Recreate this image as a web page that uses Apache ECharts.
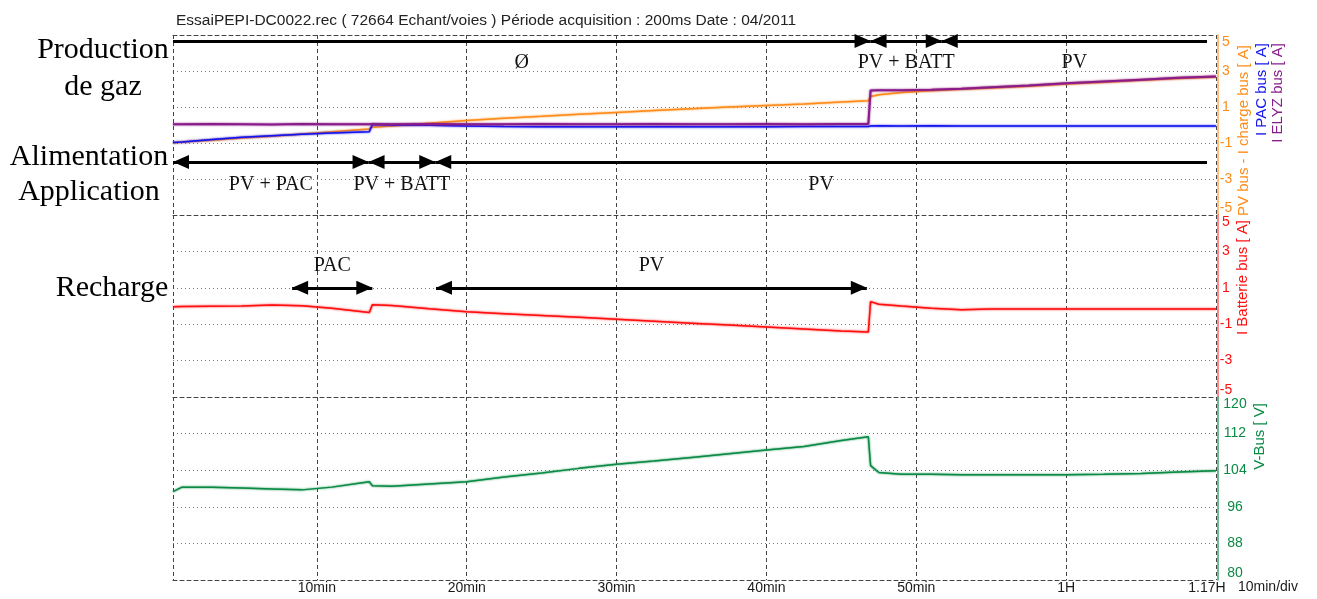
<!DOCTYPE html>
<html>
<head>
<meta charset="utf-8">
<script src="https://cdn.jsdelivr.net/npm/echarts@6/dist/echarts.min.js"></script>
<style>
  html, body { margin: 0; padding: 0; background: #fff; }
  #chart { width: 1317px; height: 599px; }
</style>
</head>
<body>
<div id="chart"></div>
<script>
// temps en minutes
var times = [0.4, 1, 3, 5, 7, 9, 11, 13.5, 13.7, 15, 17.5, 20, 22.5, 25, 27.5, 30, 32.5, 35, 37.5, 40,
    42.5, 45, 46.8, 46.95, 47.5, 49, 51, 53, 55, 57.5, 60, 62.5, 65, 67.5, 70];

// PV bus - I charge bus [A]
var pvChargeBus = [-1.0, -0.95, -0.85, -0.72, -0.62, -0.5, -0.38, -0.22, -0.12, -0.05, 0.1, 0.25, 0.38, 0.48, 0.6,
    0.7, 0.8, 0.9, 1.0, 1.08, 1.17, 1.28, 1.35, 1.58, 1.68, 1.8, 1.9, 1.98, 2.05, 2.15, 2.28, 2.38, 2.48, 2.58, 2.66];
// I PAC bus [A]
var pacBus = [-0.97, -0.95, -0.8, -0.68, -0.6, -0.52, -0.45, -0.38, 0.03, 0.0, -0.02, -0.05, -0.08, -0.1, -0.1,
    -0.1, -0.1, -0.1, -0.1, -0.1, -0.09, -0.08, -0.08, -0.05, -0.04, -0.05, -0.04, -0.05, -0.05, -0.05, -0.05, -0.06, -0.05, -0.05, -0.05];
// I ELYZ bus [A]
var elyzBus = [0.04, 0.04, 0.05, 0.04, 0.03, 0.05, 0.04, 0.04, 0.05, 0.04, 0.05, 0.04, 0.04, 0.05, 0.04,
    0.04, 0.05, 0.04, 0.04, 0.05, 0.04, 0.05, 0.05, 1.92, 1.93, 1.93, 1.96, 2.02, 2.1, 2.2, 2.32, 2.42, 2.52, 2.62, 2.7];
// I Batterie bus [A]
var batterieBus = [-0.04, -0.03, -0.01, 0.0, 0.06, 0.02, -0.12, -0.36, 0.07, 0.03, -0.15, -0.31, -0.42, -0.52, -0.62,
    -0.73, -0.84, -0.95, -1.05, -1.16, -1.27, -1.38, -1.43, 0.24, 0.1, 0.0, -0.12, -0.2, -0.17, -0.16, -0.17, -0.17, -0.17, -0.17, -0.17];
// V-Bus [V]
var vBus = [99.3, 100.3, 100.3, 100.1, 99.9, 99.7, 100.3, 101.5, 100.6, 100.5, 101.0, 101.5, 102.5, 103.4, 104.4,
    105.3, 106.0, 106.8, 107.6, 108.4, 109.2, 110.5, 111.3, 105.0, 103.5, 103.1, 103.1, 103.0, 103.0, 103.0, 103.0, 103.1, 103.3, 103.6, 103.9];

var timeTicks = [10, 20, 30, 40, 50, 60, 70];
var timeTickLabels = ['10min', '20min', '30min', '40min', '50min', '1H', '1.17H'];
var currentTicks = [-5, -3, -1, 1, 3, 5];
var voltTicks = [80, 88, 96, 104, 112, 120];

// phases annotées (flèches), en minutes
var gasPhases = [
    {from: 0.4, to: 46.95, label: 'Ø', heads: [false, true]},
    {from: 46.95, to: 51.7, label: 'PV + BATT', heads: [true, true]},
    {from: 51.7, to: 69.4, label: 'PV', heads: [true, false]}
];
var supplyPhases = [
    {from: 0.4, to: 13.45, label: 'PV + PAC', heads: [true, true]},
    {from: 13.45, to: 17.9, label: 'PV + BATT', heads: [true, true]},
    {from: 17.9, to: 69.4, label: 'PV', heads: [true, false]}
];
var rechargePhases = [
    {from: 8.35, to: 13.7, label: 'PAC', heads: [true, true]},
    {from: 17.95, to: 46.7, label: 'PV', heads: [true, true]}
];
var gasRow = 4.67, supplyRow = -2.05, rechargeRow = 1.0;

var xMin = 0.4, xMax = 70;
var frameColor = '#444';
var orange = '#FF8C1A', blue = '#1414F0', purple = '#8A1C8A', red = '#FF1010', green = '#0B8A45';

function pairs(ys) {
    return times.map(function (t, i) { return [t, ys[i]]; });
}

function arrowLines(phases, y, pos, dist) {
    return phases.map(function (p) {
        return [
            {
                coord: [p.from, y], name: p.label,
                symbol: p.heads[0] ? 'triangle' : 'none', symbolSize: [14, 16], symbolOffset: [0, '50%'],
                label: {position: pos, distance: dist}
            },
            {
                coord: [p.to, y],
                symbol: p.heads[1] ? 'triangle' : 'none', symbolSize: [14, 16], symbolOffset: [0, '50%']
            }
        ];
    });
}

function xAxisFor(grid, showLabels) {
    return {
        type: 'value', gridIndex: grid, min: xMin, max: xMax,
        axisLine: {show: true, onZero: false, lineStyle: {color: frameColor, type: [4, 3], width: 1}},
        axisTick: {show: false, customValues: [xMin].concat(timeTicks)},
        axisLabel: {
            show: showLabels, customValues: timeTicks, margin: 1,
            color: '#1a1a1a', fontSize: 14, fontFamily: 'Liberation Sans',
            formatter: function (v) {
                var txt = timeTickLabels[timeTicks.indexOf(v)];
                return v === xMax ? '{last|' + txt + '}' : txt;
            },
            rich: {last: {color: '#1a1a1a', fontSize: 14, fontFamily: 'Liberation Sans', padding: [0, 18, 0, 0]}}
        },
        splitLine: {show: true, lineStyle: {color: frameColor, type: [4, 3], width: 1}},
        name: showLabels ? '10min/div' : '',
        nameLocation: 'end', nameGap: 22,
        nameTextStyle: {color: '#1a1a1a', fontSize: 14, fontFamily: 'Liberation Sans', verticalAlign: 'top', lineHeight: 14}
    };
}

function valueAxis(grid, min, max, labels, inner, color, labelColor, margin) {
    return {
        type: 'value', gridIndex: grid, position: 'right', offset: 2, min: min, max: max,
        axisLine: {show: true, onZero: false, lineStyle: {color: color, width: 1.5}},
        axisTick: {show: false, customValues: inner},
        axisLabel: {
            customValues: labels, color: labelColor, fontSize: 14, fontFamily: 'Liberation Sans',
            align: 'center', margin: margin,
            verticalAlignMinLabel: 'bottom', verticalAlignMaxLabel: 'top'
        },
        splitLine: {show: true, lineStyle: {color: '#777', type: [1, 3], width: 1}}
    };
}

function nameAxis(grid, min, max, name, color, offset, gap) {
    return {
        type: 'value', gridIndex: grid, position: 'right', offset: offset, min: min, max: max,
        axisLine: {show: false, onZero: false}, axisTick: {show: false}, axisLabel: {show: false}, splitLine: {show: false},
        name: name, nameLocation: 'end', nameRotate: 90, nameGap: gap,
        nameTextStyle: {color: color, fontSize: 15, fontFamily: 'Liberation Sans', align: 'right'}
    };
}

function trace(name, xi, yi, ys, color, width) {
    return {
        name: name, type: 'line', xAxisIndex: xi, yAxisIndex: yi, data: pairs(ys),
        showSymbol: false, symbol: 'none', silent: true,
        lineStyle: {color: color, width: width, shadowColor: color, shadowBlur: 2}
    };
}

var arrowLabel = {show: true, formatter: '{b}', color: '#111', fontSize: 20, fontFamily: 'Liberation Serif'};

var chart = echarts.init(document.getElementById('chart'));
var option = {
    animation: false,
    backgroundColor: '#fff',
    title: {
        text: 'EssaiPEPI-DC0022.rec ( 72664 Echant/voies ) Période acquisition : 200ms Date : 04/2011',
        left: 171, top: 8,
        textStyle: {fontSize: 15.5, fontWeight: 'normal', fontFamily: 'Liberation Sans', color: '#222'}
    },
    graphic: [
        {type: 'text', x: 103, y: 50, style: {text: 'Production', fontSize: 30, fontFamily: 'Liberation Serif', fill: '#000', align: 'center', verticalAlign: 'middle'}},
        {type: 'text', x: 103, y: 87, style: {text: 'de gaz', fontSize: 30, fontFamily: 'Liberation Serif', fill: '#000', align: 'center', verticalAlign: 'middle'}},
        {type: 'text', x: 89, y: 157, style: {text: 'Alimentation', fontSize: 30, fontFamily: 'Liberation Serif', fill: '#000', align: 'center', verticalAlign: 'middle'}},
        {type: 'text', x: 89, y: 192, style: {text: 'Application', fontSize: 30, fontFamily: 'Liberation Serif', fill: '#000', align: 'center', verticalAlign: 'middle'}},
        {type: 'text', x: 112, y: 288, style: {text: 'Recharge', fontSize: 30, fontFamily: 'Liberation Serif', fill: '#000', align: 'center', verticalAlign: 'middle'}}
    ],
    grid: [
        {left: 173, right: 101, top: 35, height: 180},
        {left: 173, right: 101, top: 215, height: 182},
        {left: 173, right: 101, top: 397, height: 183}
    ],
    xAxis: [
        xAxisFor(0, false),
        {
            type: 'value', gridIndex: 0, position: 'top', min: xMin, max: xMax,
            axisLine: {show: true, onZero: false, lineStyle: {color: frameColor, type: [4, 3], width: 1}},
            axisTick: {show: false}, axisLabel: {show: false}, splitLine: {show: false}
        },
        xAxisFor(1, false),
        xAxisFor(2, true)
    ],
    yAxis: [
        valueAxis(0, -5, 5, currentTicks, [-3, -1, 1, 3], '#FFA850', orange, 8),
        nameAxis(0, -5, 5, 'PV bus - I charge bus [ A]', orange, 28, -10),
        nameAxis(0, -5, 5, 'I PAC bus [ A]', blue, 46, -8),
        nameAxis(0, -5, 5, 'I ELYZ bus [ A]', purple, 62, -8),
        valueAxis(1, -5, 5, currentTicks, [-3, -1, 1, 3], '#FF6060', red, 8),
        nameAxis(1, -5, 5, 'I Batterie bus [ A]', red, 27, -5),
        valueAxis(2, 80, 120, voltTicks, [88, 96, 104, 112], '#3FA070', green, 17),
        nameAxis(2, 80, 120, 'V-Bus [ V]', green, 44, -6)
    ],
    series: [
        trace('PV bus - I charge bus', 0, 0, pvChargeBus, orange, 1.5),
        trace('I PAC bus', 0, 0, pacBus, blue, 1.5),
        (function () {
            var s = trace('I ELYZ bus', 0, 0, elyzBus, purple, 2);
            s.markLine = {
                silent: true, symbol: ['none', 'none'], animation: false,
                lineStyle: {color: '#000', width: 3, type: 'solid'},
                emphasis: {disabled: true},
                label: arrowLabel,
                data: arrowLines(gasPhases, gasRow, 'insideMiddleBottom', 12)
                    .concat(arrowLines(supplyPhases, supplyRow, 'insideMiddleBottom', 13))
            };
            return s;
        })(),
        (function () {
            var s = trace('I Batterie bus', 2, 4, batterieBus, red, 1.5);
            s.markLine = {
                silent: true, symbol: ['none', 'none'], animation: false,
                lineStyle: {color: '#000', width: 3, type: 'solid'},
                emphasis: {disabled: true},
                label: arrowLabel,
                data: arrowLines(rechargePhases, rechargeRow, 'insideMiddleTop', 12)
            };
            return s;
        })(),
        trace('V-Bus', 3, 6, vBus, green, 1.5)
    ]
};
chart.setOption(option);
</script>
</body>
</html>
